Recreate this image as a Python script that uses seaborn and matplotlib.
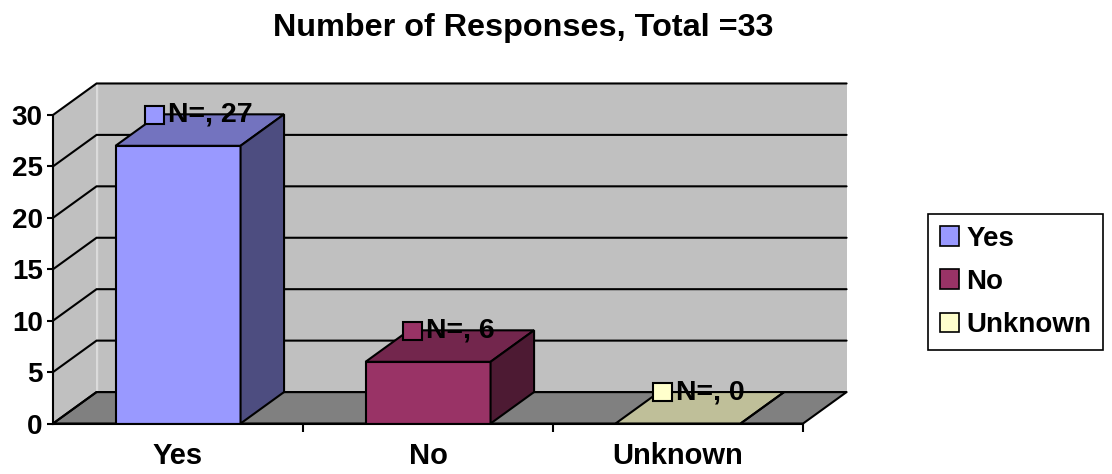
import numpy as np
import matplotlib
matplotlib.use('Agg')
import matplotlib.pyplot as plt
import matplotlib.colors as mcolors
import seaborn as sns
from matplotlib.patches import Polygon, Rectangle, Patch
from matplotlib.offsetbox import AnnotationBbox, HPacker, DrawingArea, TextArea

# Data
categories = ['Yes', 'No', 'Unknown']
counts = [27, 6, 0]
bar_colors = ['#9999FF', '#993366', '#FFFFCC']
y_ticks = [0, 5, 10, 15, 20, 25, 30]
title = 'Number of Responses, Total =33'

sns.set_style('white')
plt.rcParams['font.family'] = ['Liberation Sans', 'DejaVu Sans']
plt.rcParams['font.weight'] = 'bold'
plt.rcParams['text.color'] = 'black'
plt.rcParams['xtick.color'] = 'black'
plt.rcParams['ytick.color'] = 'black'


def shade(c, f):
    r, g, b, a = mcolors.to_rgba(c)
    return (r * f, g * f, b * f, a)


fig = plt.figure(figsize=(11.12, 4.74), dpi=100)
ax = fig.add_axes([0.0477, 0.1065, 0.6745, 0.651])

# depth of the 3d box (data units)
DX, DY = 0.174, 3.06
x0, x1 = -0.5, 2.5
ymax = y_ticks[-1]

# side wall, back wall, floor
wall = '#C0C0C0'
ax.add_patch(Polygon([(x0, 0), (x0, ymax), (x0 + DX, ymax + DY), (x0 + DX, DY)],
                     fc=wall, ec='none', zorder=0, clip_on=False))
ax.add_patch(Rectangle((x0 + DX, DY), x1 - x0, ymax, fc=wall, ec='none',
                       zorder=0, clip_on=False))
ax.plot([x0 + DX, x0 + DX], [DY, ymax + DY], color='#DADADA', lw=1, zorder=0.1, clip_on=False)
ax.add_patch(Polygon([(x0, 0), (x1, 0), (x1 + DX, DY), (x0 + DX, DY)],
                     fc='#808080', ec='black', lw=1.5, zorder=0.2, clip_on=False))
for t in y_ticks:
    ax.plot([x0, x0 + DX, x1 + DX], [t, t + DY, t + DY], color='black', lw=1.5,
            zorder=0.5, clip_on=False, solid_joinstyle='miter')

# front faces of bars
sns.barplot(x=categories, y=counts, hue=categories, palette=bar_colors, width=0.5,
            saturation=1, edgecolor='black', linewidth=1.5, legend=False, ax=ax, zorder=2)

# tops, sides and labels
for cont in ax.containers:
    for bar, n in zip(cont, cont.datavalues):
        bx, bw, bh = bar.get_x(), bar.get_width(), bar.get_height()
        col = bar.get_facecolor()
        ax.add_patch(Polygon([(bx, bh), (bx + bw, bh), (bx + bw + DX, bh + DY), (bx + DX, bh + DY)],
                             fc=shade(col, 0.75), ec='black', lw=1.5, zorder=2, clip_on=False))
        ax.add_patch(Polygon([(bx + bw, 0), (bx + bw, bh), (bx + bw + DX, bh + DY), (bx + bw + DX, DY)],
                             fc=shade(col, 0.5), ec='black', lw=1.5, zorder=2, clip_on=False))
        da = DrawingArea(13, 13)
        da.add_artist(Rectangle((0, 0), 13, 13, fc=col, ec='black', lw=1.5))
        txt = TextArea('N=, %d' % n, textprops=dict(fontsize=20.5, fontweight='bold', color='black'))
        pack = HPacker(children=[da, txt], align='center', pad=0, sep=3)
        ab = AnnotationBbox(pack, (bx + bw / 2, bh), xybox=(15, 22.5),
                            boxcoords='offset points', frameon=False,
                            box_alignment=(0.5, 0.5), zorder=5)
        ax.add_artist(ab)

ax.set_xlim(x0, x1)
ax.set_ylim(0, ymax)
ax.set_xlabel('')
ax.set_ylabel('')
ax.set_yticks(y_ticks)
ax.set_xticks(range(len(categories)))
ax.set_xticklabels(categories, fontsize=21, fontweight='bold')
ax.set_yticklabels([str(t) for t in y_ticks], fontsize=20, fontweight='bold')
ax.set_xticks([0.5, 1.5, 2.5], minor=True)
ax.tick_params(axis='x', which='major', length=0, pad=13, labelcolor='black')
ax.tick_params(axis='x', which='minor', direction='out', length=6, width=1.5, color='black', bottom=True)
ax.tick_params(axis='y', direction='out', length=4.5, width=1.5, color='black', pad=3, left=True,
               labelcolor='black')
for s in ['top', 'right']:
    ax.spines[s].set_visible(False)
for s in ['left', 'bottom']:
    ax.spines[s].set_color('black')
    ax.spines[s].set_linewidth(1.5)
    ax.spines[s].set_zorder(3)
ax.set_facecolor('none')

fig.text(523 / 1112, 1 - 28 / 474, title, ha='center', va='center',
         fontsize=23.3, fontweight='bold', color='black')

handles = [Patch(facecolor=c, edgecolor='black', lw=1.2) for c in bar_colors]
leg = fig.legend(handles, categories, loc='upper left', bbox_to_anchor=(928 / 1112, 1 - 214 / 474),
                 prop=dict(size=20, weight='bold'), fancybox=False, framealpha=1,
                 edgecolor='black', handlelength=0.7, handleheight=0.7,
                 handletextpad=0.25, labelspacing=0.62, borderpad=0.42, borderaxespad=0)
leg.get_frame().set_linewidth(1.2)
for t in leg.get_texts():
    t.set_color('black')

fig.savefig('out.png', dpi=100)
